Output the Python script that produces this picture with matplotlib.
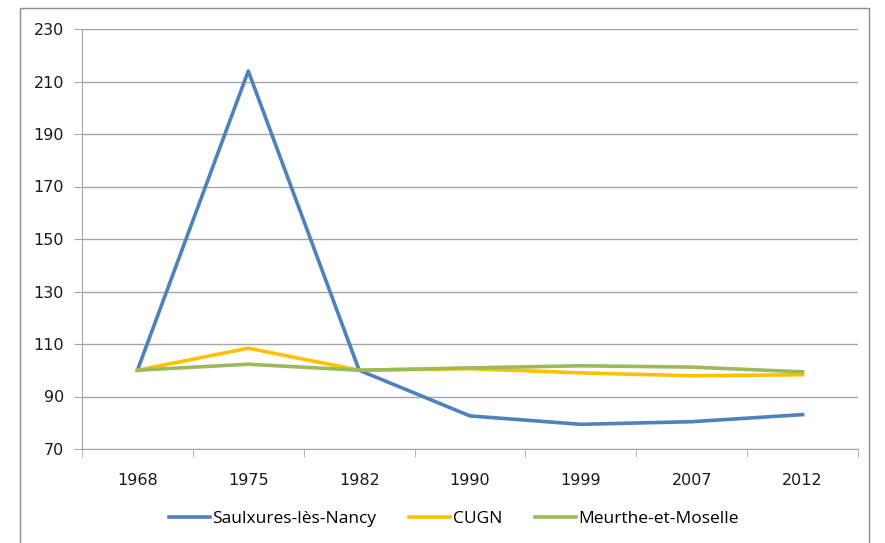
import matplotlib
matplotlib.use("Agg")
import matplotlib.pyplot as plt
from matplotlib.patches import Rectangle

years = ["1968", "1975", "1982", "1990", "1999", "2007", "2012"]
saulxures = [100, 214, 100, 82.6, 79.4, 80.4, 83.1]
cugn = [100, 108.4, 100, 100.6, 99.0, 97.9, 98.3]
meurthe = [100, 102.3, 100, 100.9, 101.7, 101.2, 99.4]

SERIES = [
    ("Saulxures-lès-Nancy", saulxures, "#4F81BD"),
    ("CUGN", cugn, "#FFC000"),
    ("Meurthe-et-Moselle", meurthe, "#9BBB59"),
]
GRID = "#A6A6A6"

W, H = 885, 543
fig = plt.figure(figsize=(W / 100, H / 100), dpi=100)
ax = fig.add_axes([82 / W, 1 - 449 / H, (858 - 82) / W, (449 - 29) / H])

# outer chart frame (bottom edge runs off the image)
fig.patches.append(Rectangle((20 / W, -0.05), (869 - 20) / W, 1.05 - 8 / H,
                             transform=fig.transFigure, fill=False,
                             edgecolor="#8C8C8C", lw=1.0))

x = range(len(years))
for name, vals, col in SERIES:
    ax.plot(x, vals, color=col, lw=2.6, label=name, solid_joinstyle="round")

ax.set_ylim(70, 230)
ax.set_yticks(range(70, 231, 20))
ax.set_xlim(-0.5, len(years) - 0.5)
ax.set_xticks(list(x))
ax.set_xticklabels(years)
ax.set_xticks([i - 0.5 for i in range(len(years) + 1)], minor=True)
ax.tick_params(axis="x", which="major", length=0, pad=17)
ax.tick_params(axis="x", which="minor", length=6, color=GRID)
ax.tick_params(axis="y", length=6, color=GRID, pad=7)
for lab in ax.get_xticklabels() + ax.get_yticklabels():
    lab.set_fontsize(11.5)
    lab.set_color("#1a1a1a")
ax.grid(axis="y", color=GRID, lw=1.0)
ax.set_axisbelow(True)
for s in ("top", "right"):
    ax.spines[s].set_visible(False)
for s in ("left", "bottom"):
    ax.spines[s].set_color(GRID)

fig.legend(loc="center", bbox_to_anchor=(454 / W, 1 - 519 / H), ncol=3,
           frameon=False, handlelength=2.35, handletextpad=0.15, columnspacing=1.9,
           prop={"family": "Open Sans", "size": 12.5})

fig.savefig("out.png", dpi=100)
